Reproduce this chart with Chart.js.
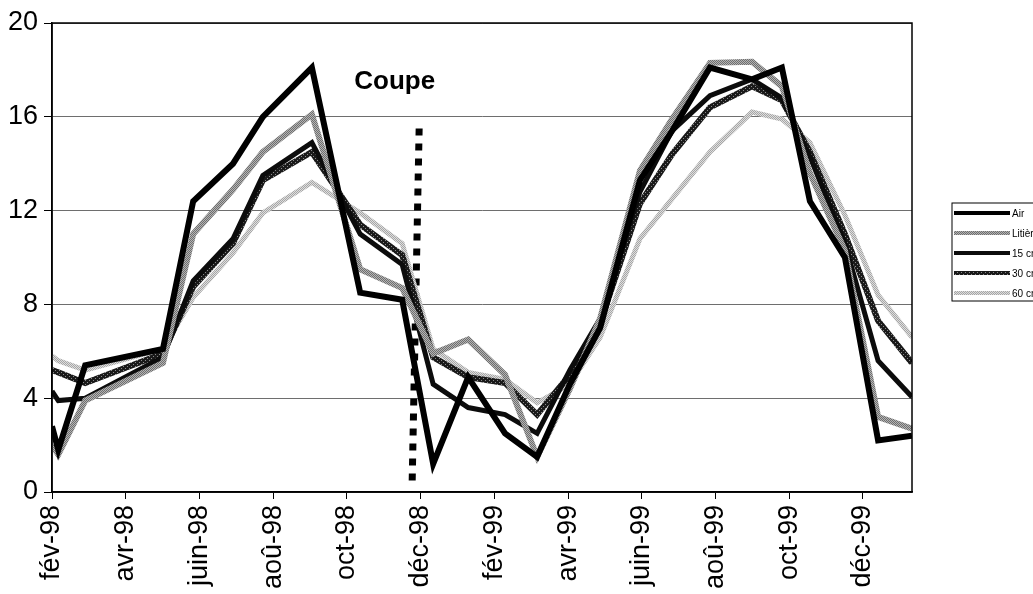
<!DOCTYPE html>
<html>
<head>
<meta charset="utf-8">
<script src="https://cdn.jsdelivr.net/npm/chart.js@4/dist/chart.umd.min.js"></script>
<style>
    html, body { margin: 0; padding: 0; background: #fff; }
    #wrap { width: 1033px; height: 594px; position: relative; }
</style>
</head>
<body>
<div id="wrap"><canvas id="tempChart"></canvas></div>
<script>
// Dates des relevés, en mois depuis le 1er février 1998
const months = [0, 0.17, 0.9, 3.01, 3.83, 4.91, 5.72, 7.05, 8.36, 9.5, 10.34, 11.29, 12.29,
    13.16, 14.05, 14.87, 15.95, 16.82, 17.85, 18.99, 19.8, 20.56, 21.51, 22.41, 23.33];

// Températures (°C)
const air     = [2.8, 1.8, 5.4, 6.1, 12.4, 14.0, 16.0, 18.1, 8.5, 8.2, 1.2, 4.9, 2.5,
    1.5, 4.6, 7.0, 13.3, 15.4, 18.1, 17.6, 18.1, 12.4, 10.0, 2.2, 2.4];
const litiere = [2.0, 1.6, 3.9, 5.5, 11.0, 12.9, 14.5, 16.1, 9.5, 8.7, 5.9, 6.5, 5.0,
    1.5, 4.4, 7.4, 13.7, 15.9, 18.3, 18.35, 17.3, 13.6, 10.3, 3.2, 2.7];
const cm15    = [4.3, 3.9, 4.0, 5.75, 9.0, 10.8, 13.5, 14.9, 11.0, 9.7, 4.6, 3.6, 3.3,
    2.5, 5.2, 7.4, 12.8, 15.4, 16.9, 17.6, 16.8, 14.3, 10.6, 5.6, 4.05];
const cm30    = [5.2, 5.1, 4.65, 5.9, 8.75, 10.6, 13.3, 14.5, 11.4, 10.1, 5.75, 4.9, 4.65,
    3.3, 5.0, 7.2, 12.3, 14.4, 16.4, 17.3, 16.7, 14.5, 11.0, 7.3, 5.5];
const cm60    = [5.8, 5.6, 5.2, 6.1, 8.3, 10.2, 11.9, 13.2, 11.9, 10.6, 6.1, 5.1, 4.8,
    3.8, 4.6, 6.6, 10.8, 12.5, 14.5, 16.2, 15.9, 14.9, 11.8, 8.4, 6.6];

// Étiquettes de l'axe des dates (un repère tous les deux mois)
const tickLabels = ['fév-98', 'avr-98', 'juin-98', 'aoû-98', 'oct-98', 'déc-98',
    'fév-99', 'avr-99', 'juin-99', 'aoû-99', 'oct-99', 'déc-99'];
const yTicks = [0, 4, 8, 12, 16, 20];

// Trait vertical de la coupe
const coupeX = [9.96, 9.77];
const coupeY = [15.5, 0.4];

const FONT = "'Liberation Sans', Arial, Helvetica, sans-serif";

// Petites trames 4x4 pour les traits grisés
function trame(light, dark, mask) {
    const c = document.createElement('canvas');
    c.width = 4;
    c.height = 4;
    const g = c.getContext('2d');
    g.fillStyle = light;
    g.fillRect(0, 0, 4, 4);
    g.fillStyle = dark;
    mask.forEach(([x, y]) => g.fillRect(x, y, 1, 1));
    return g.createPattern(c, 'repeat');
}

const checker = [[0, 0], [2, 0], [1, 1], [3, 1], [0, 2], [2, 2], [1, 3], [3, 3]];
const sparse = [[1, 0], [3, 2]];

function toPoints(values) {
    return months.map((m, i) => ({ x: m, y: values[i] }));
}

function serie(label, values, color, width) {
    return {
        label: label,
        data: toPoints(values),
        borderColor: color,
        backgroundColor: color,
        borderWidth: width,
        pointRadius: 0,
        tension: 0,
        fill: false,
        borderJoinStyle: 'miter'
    };
}

// Cadre de la zone de tracé, mention "Coupe" et légende
const decorPlugin = {
    id: 'decor',
    afterDraw(chart) {
        const ctx = chart.ctx;
        const area = chart.chartArea;
        const xs = chart.scales.x;
        const ys = chart.scales.y;

        ctx.save();
        ctx.strokeStyle = '#000';
        ctx.lineWidth = 1.5;
        ctx.strokeRect(area.left, area.top, area.right - area.left, area.bottom - area.top);

        ctx.fillStyle = '#000';
        ctx.font = 'bold 26px ' + FONT;
        ctx.textBaseline = 'alphabetic';
        ctx.textAlign = 'left';
        ctx.fillText('Coupe', xs.getPixelForValue(8.2), ys.getPixelForValue(17.2));

        // légende
        const lx = 952, ly = 203;
        ctx.lineWidth = 1;
        ctx.strokeRect(lx, ly, 110, 98);
        ctx.font = '10px ' + FONT;
        ctx.textBaseline = 'middle';
        const items = chart.data.datasets.filter(d => d.label);
        items.forEach((d, i) => {
            const y = ly + 10 + i * 20;
            ctx.strokeStyle = d.borderColor;
            ctx.lineWidth = 4;
            ctx.beginPath();
            ctx.moveTo(lx + 2, y);
            ctx.lineTo(lx + 58, y);
            ctx.stroke();
            ctx.fillStyle = '#000';
            ctx.fillText(d.label, lx + 60, y + 1);
        });
        ctx.restore();
    }
};

const ctx = document.getElementById('tempChart').getContext('2d');
new Chart(ctx, {
    type: 'line',
    data: {
        datasets: [
            serie('Air', air, '#000000', 6),
            serie('Litière', litiere, trame('#b4b4b4', '#6e6e6e', checker), 6),
            serie('15 cm', cm15, '#0c0c0c', 5),
            serie('30 cm', cm30, trame('#1a1a1a', '#8a8a8a', sparse), 6),
            serie('60 cm', cm60, trame('#dedede', '#a6a6a6', checker), 5),
            {
                label: '',
                data: coupeX.map((x, i) => ({ x: x, y: coupeY[i] })),
                borderColor: '#000',
                borderWidth: 7,
                borderDash: [7, 8],
                borderCapStyle: 'butt',
                pointRadius: 0,
                tension: 0,
                fill: false
            }
        ]
    },
    options: {
        responsive: true,
        maintainAspectRatio: false,
        animation: false,
        layout: { padding: { top: 23, right: 121, bottom: 0, left: 0 } },
        plugins: {
            legend: { display: false },
            tooltip: { enabled: false }
        },
        scales: {
            x: {
                type: 'linear',
                min: 0,
                max: 23.33,
                afterBuildTicks: scale => {
                    scale.ticks = tickLabels.map((t, i) => ({ value: i * 2 }));
                },
                afterFit: scale => { scale.height = 102; },
                ticks: {
                    autoSkip: false,
                    minRotation: 90,
                    maxRotation: 90,
                    padding: 6,
                    color: '#000',
                    font: { family: FONT, size: 27 },
                    callback: value => tickLabels[Math.round(value / 2)]
                },
                grid: {
                    drawOnChartArea: false,
                    drawTicks: true,
                    tickLength: 7,
                    color: '#000'
                },
                border: { color: '#000', width: 1.5 }
            },
            y: {
                min: 0,
                max: 20,
                afterBuildTicks: scale => {
                    scale.ticks = yTicks.map(v => ({ value: v }));
                },
                afterFit: scale => { scale.width = 52; },
                ticks: {
                    padding: 6,
                    color: '#000',
                    font: { family: FONT, size: 27 }
                },
                grid: {
                    color: '#6e6e6e',
                    lineWidth: 1,
                    tickLength: 8,
                    tickColor: '#000'
                },
                border: { color: '#000', width: 1.5 }
            }
        }
    },
    plugins: [decorPlugin]
});
</script>
</body>
</html>
